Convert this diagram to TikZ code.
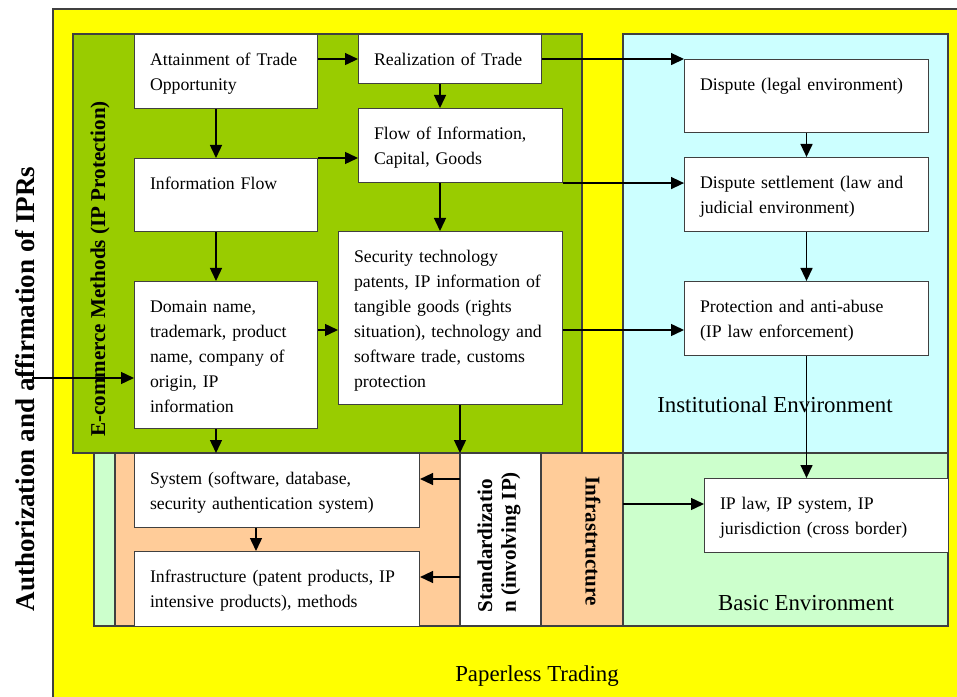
\documentclass[tikz,border=0pt]{standalone}
\usepackage{fontspec}
\setmainfont{Liberation Serif}
\usepackage{xcolor}
\usetikzlibrary{arrows.meta}

\definecolor{paper}{HTML}{FFFF00}
\definecolor{ecom}{HTML}{99CC00}
\definecolor{inst}{HTML}{CCFFFF}
\definecolor{basic}{HTML}{CCFFCC}
\definecolor{tech}{HTML}{FFCC99}

\newcommand{\boxfont}{\fontsize{10.1}{14.2}\selectfont\hyphenpenalty=10000}
\newcommand{\envfont}{\fontsize{13}{15}\selectfont}

\tikzset{
  frame/.style={draw=black!75, line width=0.6pt},
  box/.style 2 args={
        frame,
        fill=white,
        anchor=north west,
        align=left,
        font=\boxfont,
        inner xsep=3.1mm,
        inner ysep=2mm,
        text width=#1-6.2mm,
        text height=4.2mm,
        text depth=#2-8.2mm
        },
  flow/.style={->, line width=0.8pt},
  sidelabel/.style={
        font=\bfseries\fontsize{12}{13.5}\selectfont,
        inner sep=0pt
        }
}

\begin{document}
\begin{tikzpicture}[
        x=0.2mm,
        y=-0.2mm,
        >={Triangle[length=2.6mm, width=2.4mm]}
        ]

\useasboundingbox (0,0) rectangle (957,697);
\fill[white] (0,0) rectangle (957,697);

%paperless trading
\fill[paper] (53,9) rectangle (957,697);
\draw[frame] (53,697) |- (957,9);

%basic environment, technology strip
\filldraw[frame, fill=basic] (94,453) rectangle (948,626);
\filldraw[frame, fill=tech] (115,453) rectangle (460,626);
\filldraw[frame, fill=white] (460,453) rectangle (541,626);
\filldraw[frame, fill=tech] (541,453) rectangle (623,626);

%e-commerce methods
\filldraw[frame, fill=ecom] (73,34) rectangle (582,453);

%institutional environment
\filldraw[frame, fill=inst] (623,34) rectangle (948,453);

%area labels
\node[
        sidelabel,
        rotate=90,
        font=\bfseries\fontsize{15.4}{17}\selectfont
        ] (auth) at (25,389) {Authorization and affirmation of IPRs};
\node[sidelabel, rotate=90] (ecomlabel) at (100,269) {E-commerce Methods (IP Protection)};
\node[
        sidelabel,
        rotate=90,
        anchor=west,
        align=left
        ] (stdlabel) at (499,613) {Standardizatio\\n (involving IP)};
\node[sidelabel, rotate=-90] (infralabel) at (593,541) {Infrastructure};
\node[font=\envfont] (instlabel) at (775,405) {Institutional Environment};
\node[font=\envfont] (basiclabel) at (806,603) {Basic Environment};
\node[font=\envfont] (paperlabel) at (537,676) {Paperless Trading};

%trade boxes
\node[box={36.6mm}{14.8mm}] (attain) at (134,34) {Attainment of Trade\\Opportunity};
\node[box={36.6mm}{9.8mm}] (real) at (358,34) {Realization of Trade};
\node[box={40.8mm}{14.8mm}] (flow) at (358,108) {Flow of Information,\\Capital, Goods};
\node[box={36.6mm}{14.6mm}] (info) at (134,158) {Information Flow};
\node[box={36.6mm}{29.4mm}] (domain) at (134,281)
        {Domain name,\\trademark, product\\name, company of\\origin, IP\\information};
\node[box={44.8mm}{34.6mm}] (secu) at (338,231)
        {Security technology\\patents, IP information of\\tangible goods (rights\\situation), technology and\\software trade, customs\\protection};
\node[box={57mm}{14.8mm}] (system) at (134,453)
        {System (software, database,\\security authentication system)};
\node[box={57mm}{15mm}] (infra) at (134,551)
        {Infrastructure (patent products, IP\\intensive products), methods};

%environment boxes
\node[box={48.8mm}{14.6mm}] (disp) at (684,59) {Dispute (legal environment)};
\node[box={48.8mm}{14.8mm}] (dset) at (684,157) {Dispute settlement (law and\\judicial environment)};
\node[box={48.8mm}{14.8mm}] (prot) at (684,281) {Protection and anti-abuse\\(IP law enforcement)};
\node[box={48.8mm}{14.8mm}] (iplaw) at (704,478) {IP law, IP system, IP\\jurisdiction (cross border)};

%connector columns and rows
\coordinate (colA) at (216,0);
\coordinate (colB) at (440,0);
\coordinate (colC) at (460,0);
\coordinate (colD) at (256,0);
\coordinate (rowA) at (0,330);
\coordinate (rowC) at (0,479);
\coordinate (rowD) at (0,577);
\coordinate (authin) at (32,378);
\coordinate (infraedge) at (623,504);

%arrows
\draw[flow] (attain.east |- real.west) -- (real.west);
\draw[flow] (real.east) -- (real.east -| disp.west);
\draw[flow] (real.south -| colB) -- (flow.north -| colB);
\draw[flow] (attain.south -| colA) -- (info.north -| colA);
\draw[flow] (info.north east) -- (info.north east -| flow.west);
\draw[flow] (flow.south -| colB) -- (secu.north -| colB);
\draw[flow] (flow.south east) -- (flow.south east -| dset.west);
\draw[flow] (info.south -| colA) -- (domain.north -| colA);
\draw[flow] (domain.east |- rowA) -- (secu.west |- rowA);
\draw[flow] (secu.east |- rowA) -- (prot.west |- rowA);
\draw[flow] (authin) -- (authin -| domain.west);
\draw[flow] (domain.south -| colA) -- (system.north -| colA);
\draw[flow] (secu.south -| colC) -- (system.north -| colC);
\draw[flow] (colC |- rowC) -- (system.east |- rowC);
\draw[flow] (colC |- rowD) -- (infra.east |- rowD);
\draw[flow] (system.south -| colD) -- (infra.north -| colD);
\draw[flow] (disp.south) -- (dset.north);
\draw[flow] (dset.south) -- (prot.north);
\draw[flow] (prot.south) -- (prot.south |- iplaw.north);
\draw[flow] (infraedge) -- (infraedge -| iplaw.west);

\end{tikzpicture}
\end{document}
